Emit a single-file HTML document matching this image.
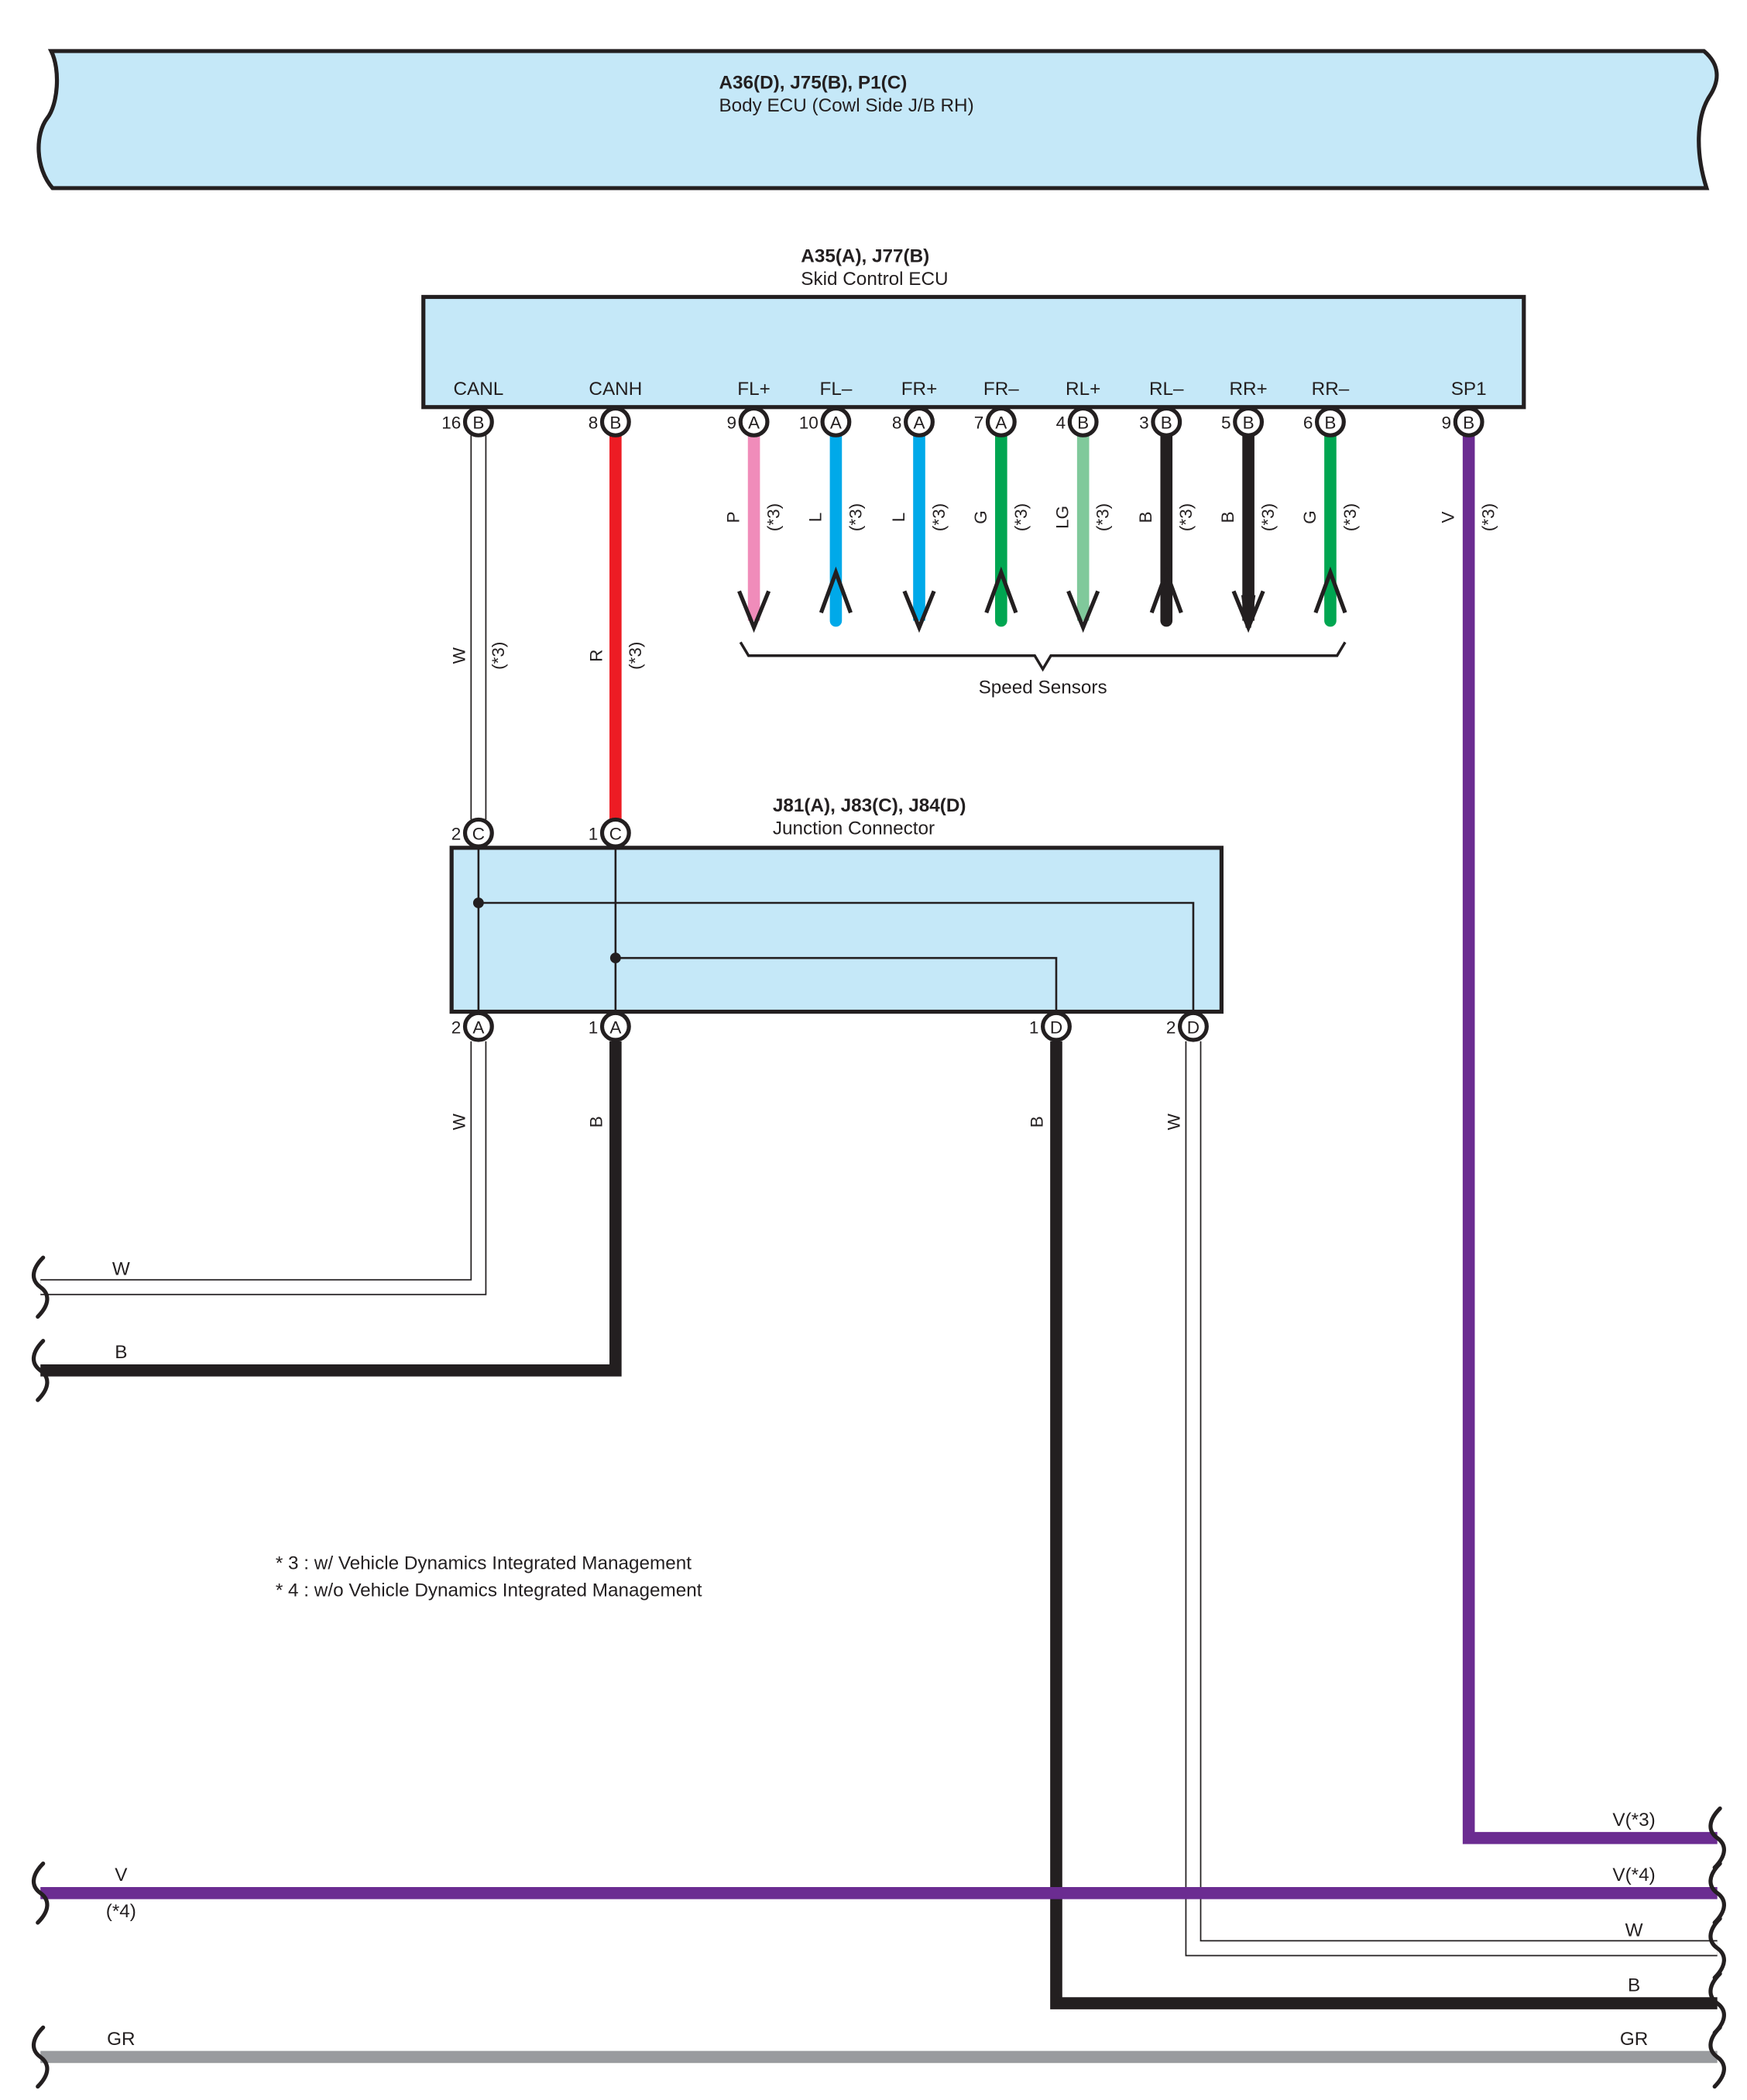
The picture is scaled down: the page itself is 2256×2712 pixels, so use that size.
<!DOCTYPE html>
<html><head><meta charset="utf-8"><style>html,body{margin:0;padding:0;background:#fff}svg{display:block}</style></head>
<body>
<svg width="2256" height="2712" viewBox="0 0 1300 1563" xmlns="http://www.w3.org/2000/svg" font-family="'Liberation Sans', sans-serif" font-size="14" fill="#231f20">
<defs>
<path id="brk" d="M2,-22 C-7,-13 -7,-5 0,0 C7,5 7,13 -2,22" fill="none" stroke="#231f20" stroke-width="3" stroke-linecap="round"/>
</defs>
<!-- Body ECU banner -->
<path d="M38,38 L1268,38 C1280,48 1280,60 1272,72 C1262,88 1262,115 1270,140 L39,140 C26,125 26,100 35,88 C43,78 45,52 38,38 Z" fill="#c5e8f8" stroke="#231f20" stroke-width="3"/>
<text x="535" y="66" font-weight="bold" font-size="14">A36(D), J75(B), P1(C)</text>
<text x="535" y="83">Body ECU (Cowl Side J/B RH)</text>

<!-- Skid Control ECU -->
<text x="596" y="195" font-weight="bold">A35(A), J77(B)</text>
<text x="596" y="212">Skid Control ECU</text>
<rect x="315" y="221" width="819" height="82" fill="#c5e8f8" stroke="#231f20" stroke-width="3"/>
<g text-anchor="middle">
<text x="356" y="294">CANL</text><text x="458" y="294">CANH</text>
<text x="561" y="294">FL+</text><text x="622" y="294">FL–</text>
<text x="684" y="294">FR+</text><text x="745" y="294">FR–</text>
<text x="806" y="294">RL+</text><text x="868" y="294">RL–</text>
<text x="929" y="294">RR+</text><text x="990" y="294">RR–</text>
<text x="1093" y="294">SP1</text>
</g>

<!-- wires -->
<g fill="none" stroke-linejoin="miter">
<!-- CANL white -->
<path d="M356,324 V610" stroke="#231f20" stroke-width="12"/>
<path d="M356,324 V610" stroke="#fff" stroke-width="10"/>
<!-- CANH red -->
<path d="M458,324 V610" stroke="#ed1c24" stroke-width="9"/>
<!-- sensor wires -->
<path d="M561,324 V462" stroke="#f08cba" stroke-width="9"/>
<path d="M622,324 V462" stroke="#00a9e9" stroke-width="9" stroke-linecap="round"/>
<path d="M684,324 V462" stroke="#00a9e9" stroke-width="9"/>
<path d="M745,324 V462" stroke="#00a651" stroke-width="9" stroke-linecap="round"/>
<path d="M806,324 V462" stroke="#80c99b" stroke-width="9"/>
<path d="M868,324 V462" stroke="#231f20" stroke-width="9" stroke-linecap="round"/>
<path d="M929,324 V462" stroke="#231f20" stroke-width="9"/>
<path d="M990,324 V462" stroke="#00a651" stroke-width="9" stroke-linecap="round"/>
<!-- arrows -->
<g stroke="#231f20" stroke-width="3">
<path d="M550,440 L561,467 L572,440"/>
<path d="M673,440 L684,467 L695,440"/>
<path d="M795,440 L806,467 L817,440"/>
<path d="M918,440 L929,467 L940,440"/>
<path d="M611,456 L622,426 L633,456"/>
<path d="M734,456 L745,426 L756,456"/>
<path d="M857,456 L868,426 L879,456"/>
<path d="M979,456 L990,426 L1001,456"/>
</g>
<path d="M926,445 L929,467 L932,445 Z" fill="#231f20" stroke="#231f20" stroke-width="4"/>
<!-- brace -->
<path d="M551,478 L557,488 L770,488 L776,498 L782,488 L995,488 L1001,478" stroke="#231f20" stroke-width="2"/>
<!-- SP1 purple -->
<path d="M1093,324 V1368 H1278" stroke="#6b2c91" stroke-width="9"/>

<!-- Below junction -->
<path d="M356,775 V958 H30" stroke="#231f20" stroke-width="12"/>
<path d="M356,775 V958 H30" stroke="#fff" stroke-width="10"/>
<path d="M458,775 V1020 H30" stroke="#231f20" stroke-width="9"/>
<path d="M786,775 V1491 H1278" stroke="#231f20" stroke-width="9"/>
<path d="M888,775 V1450 H1278" stroke="#231f20" stroke-width="12"/>
<path d="M888,775 V1450 H1278" stroke="#fff" stroke-width="10"/>
<path d="M30,1409 H1278" stroke="#6b2c91" stroke-width="9"/>
<path d="M30,1531 H1278" stroke="#999b9e" stroke-width="9"/>
</g>

<!-- Junction connector -->
<text x="575" y="604" font-weight="bold">J81(A), J83(C), J84(D)</text>
<text x="575" y="621">Junction Connector</text>
<rect x="336" y="631" width="573" height="122" fill="#c5e8f8" stroke="#231f20" stroke-width="3"/>
<g fill="none" stroke="#231f20" stroke-width="1.5">
<path d="M356,631 V753"/><path d="M458,631 V753"/>
<path d="M356,672 H888 V753"/><path d="M458,713 H786 V753"/>
</g>
<circle cx="356" cy="672" r="4"/><circle cx="458" cy="713" r="4"/>

<!-- pins -->
<g stroke="#231f20" stroke-width="3" fill="#fff">
<circle cx="356" cy="314" r="10"/><circle cx="458" cy="314" r="10"/>
<circle cx="561" cy="314" r="10"/><circle cx="622" cy="314" r="10"/>
<circle cx="684" cy="314" r="10"/><circle cx="745" cy="314" r="10"/>
<circle cx="806" cy="314" r="10"/><circle cx="868" cy="314" r="10"/>
<circle cx="929" cy="314" r="10"/><circle cx="990" cy="314" r="10"/>
<circle cx="1093" cy="314" r="10"/>
<circle cx="356" cy="620" r="10"/><circle cx="458" cy="620" r="10"/>
<circle cx="356" cy="764" r="10"/><circle cx="458" cy="764" r="10"/>
<circle cx="786" cy="764" r="10"/><circle cx="888" cy="764" r="10"/>
</g>
<g text-anchor="middle" font-size="13">
<text x="356" y="319">B</text><text x="458" y="319">B</text>
<text x="561" y="319">A</text><text x="622" y="319">A</text>
<text x="684" y="319">A</text><text x="745" y="319">A</text>
<text x="806" y="319">B</text><text x="868" y="319">B</text>
<text x="929" y="319">B</text><text x="990" y="319">B</text>
<text x="1093" y="319">B</text>
<text x="356" y="625">C</text><text x="458" y="625">C</text>
<text x="356" y="769">A</text><text x="458" y="769">A</text>
<text x="786" y="769">D</text><text x="888" y="769">D</text>
</g>
<g text-anchor="end" font-size="13">
<text x="343" y="319">16</text><text x="445" y="319">8</text>
<text x="548" y="319">9</text><text x="609" y="319">10</text>
<text x="671" y="319">8</text><text x="732" y="319">7</text>
<text x="793" y="319">4</text><text x="855" y="319">3</text>
<text x="916" y="319">5</text><text x="977" y="319">6</text>
<text x="1080" y="319">9</text>
<text x="343" y="625">2</text><text x="445" y="625">1</text>
<text x="343" y="769">2</text><text x="445" y="769">1</text>
<text x="773" y="769">1</text><text x="875" y="769">2</text>
</g>

<!-- rotated wire labels -->
<g text-anchor="middle" font-size="13">
<text transform="translate(550,385) rotate(-90)">P</text><text transform="translate(580,385) rotate(-90)">(*3)</text>
<text transform="translate(611,385) rotate(-90)">L</text><text transform="translate(641,385) rotate(-90)">(*3)</text>
<text transform="translate(673,385) rotate(-90)">L</text><text transform="translate(703,385) rotate(-90)">(*3)</text>
<text transform="translate(734,385) rotate(-90)">G</text><text transform="translate(764,385) rotate(-90)">(*3)</text>
<text transform="translate(795,385) rotate(-90)">LG</text><text transform="translate(825,385) rotate(-90)">(*3)</text>
<text transform="translate(857,385) rotate(-90)">B</text><text transform="translate(887,385) rotate(-90)">(*3)</text>
<text transform="translate(918,385) rotate(-90)">B</text><text transform="translate(948,385) rotate(-90)">(*3)</text>
<text transform="translate(979,385) rotate(-90)">G</text><text transform="translate(1009,385) rotate(-90)">(*3)</text>
<text transform="translate(1082,385) rotate(-90)">V</text><text transform="translate(1112,385) rotate(-90)">(*3)</text>
<text transform="translate(346,488) rotate(-90)">W</text><text transform="translate(375,488) rotate(-90)">(*3)</text>
<text transform="translate(448,488) rotate(-90)">R</text><text transform="translate(477,488) rotate(-90)">(*3)</text>
<text transform="translate(346,835) rotate(-90)">W</text>
<text transform="translate(448,835) rotate(-90)">B</text>
<text transform="translate(776,835) rotate(-90)">B</text>
<text transform="translate(878,835) rotate(-90)">W</text>
</g>
<text x="776" y="516" text-anchor="middle">Speed Sensors</text>

<!-- end labels -->
<g text-anchor="middle">
<text x="90" y="949">W</text><text x="90" y="1011">B</text>
<text x="90" y="1400">V</text><text x="90" y="1427">(*4)</text>
<text x="90" y="1522">GR</text>
<text x="1216" y="1359">V(*3)</text><text x="1216" y="1400">V(*4)</text>
<text x="1216" y="1441">W</text><text x="1216" y="1482">B</text>
<text x="1216" y="1522">GR</text>
</g>
<!-- break marks -->
<use href="#brk" x="30" y="958"/><use href="#brk" x="30" y="1020"/>
<use href="#brk" x="30" y="1409"/><use href="#brk" x="30" y="1531"/>
<use href="#brk" x="1278" y="1368"/><use href="#brk" x="1278" y="1409"/>
<use href="#brk" x="1278" y="1450"/><use href="#brk" x="1278" y="1491"/>
<use href="#brk" x="1278" y="1531"/>

<text x="205" y="1168">* 3 : w/ Vehicle Dynamics Integrated Management</text>
<text x="205" y="1188">* 4 : w/o Vehicle Dynamics Integrated Management</text>
</svg>
</body></html>
